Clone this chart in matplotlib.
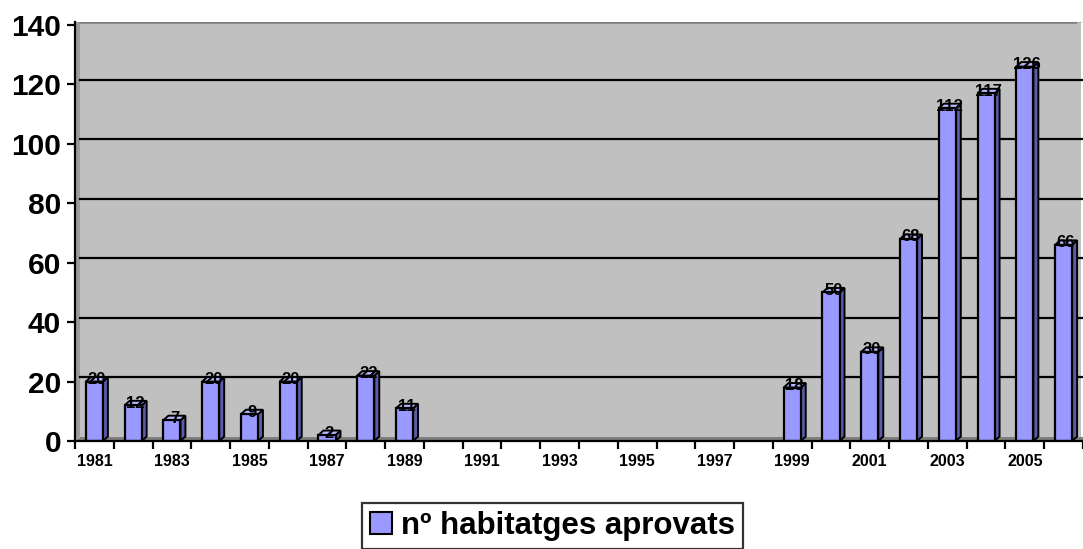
import matplotlib
matplotlib.use("Agg")
import matplotlib.pyplot as plt
from matplotlib.patches import Patch, Polygon, Rectangle
import numpy as np

years = list(range(1981, 2007))
values = [20, 12, 7, 20, 9, 20, 2, 22, 11,
          None, None, None, None, None, None, None, None, None,
          18, 50, 30, 68, 112, 117, 126, 66]
yticks = [0, 20, 40, 60, 80, 100, 120, 140]
series_label = "nº habitatges aprovats"

plt.rcParams['font.family'] = ['Liberation Sans', 'DejaVu Sans']

W, H = 1083, 549
fig = plt.figure(figsize=(W / 100, H / 100), dpi=100)
fig.patch.set_facecolor('white')

ax_left, ax_right = 75, 1083
ax_bot, ax_top = 441, 21.7
tick0, tick140 = 441, 25
ax = fig.add_axes([ax_left / W, (H - ax_bot) / H, (ax_right - ax_left) / W, (ax_bot - ax_top) / H])

cat_px = 39.04
px_per_unit = (tick0 - tick140) / 140.0
xmin = -0.5
xmax = xmin + (ax_right - ax_left) / cat_px
ymax = (ax_bot - ax_top) / px_per_unit
ax.set_xlim(xmin, xmax)
ax.set_ylim(0, ymax)

dx = 5.0 / cat_px
dy = 4.5 / px_per_unit

ax.set_facecolor('white')
# back wall
ax.add_patch(Rectangle((xmin + dx, dy), xmax - xmin, ymax, facecolor='#C0C0C0', edgecolor='none', zorder=0))
# floor
ax.add_patch(Polygon([(xmin, 0), (xmax + 1, 0), (xmax + 1, dy), (xmin + dx, dy)], closed=True,
                     facecolor='#7E7E7E', edgecolor='none', zorder=0.5))
# left wall
ax.add_patch(Polygon([(xmin, 0), (xmin + dx, dy), (xmin + dx, ymax + 1), (xmin, ymax + 1)], closed=True,
                     facecolor='#9A9A9A', edgecolor='none', zorder=0.5))
# top edge of back wall
ax.plot([xmin + dx, xmax], [ymax - 0.4, ymax - 0.4], color='#8C8C8C', lw=1.5, zorder=0.6)

# gridlines on back wall
for t in yticks[1:]:
    ax.plot([xmin + dx, xmax + 1], [t + dy, t + dy], color='black', lw=1.6, zorder=1)

bw = 0.44
front = '#9999FF'
side = '#5C5CA8'
top = '#B8B8FF'
for i, v in enumerate(values):
    if v is None:
        continue
    x0 = i - bw / 2
    x1 = i + bw / 2
    ax.add_patch(Polygon([(x1, 0), (x1 + dx, dy), (x1 + dx, v + dy), (x1, v)], closed=True,
                         facecolor=side, edgecolor='black', lw=1.4, zorder=3, joinstyle='miter'))
    ax.add_patch(Polygon([(x0, v), (x0 + dx, v + dy), (x1 + dx, v + dy), (x1, v)], closed=True,
                         facecolor=top, edgecolor='black', lw=1.4, zorder=3, joinstyle='miter'))
    ax.add_patch(Rectangle((x0, 0), bw, v, facecolor=front, edgecolor='black', lw=1.6, zorder=4,
                           joinstyle='miter'))
    ax.annotate(str(v), (i + dx / 2, v), xytext=(0, -4), textcoords='offset points',
                ha='center', va='bottom', fontsize=12, fontweight='bold', zorder=5)

for s in ['top', 'right']:
    ax.spines[s].set_visible(False)
for s in ['left', 'bottom']:
    ax.spines[s].set_linewidth(1.6)
    ax.spines[s].set_zorder(6)

ax.set_yticks(yticks)
ax.set_yticklabels([str(t) for t in yticks], fontsize=21.5, fontweight='bold')
ax.tick_params(axis='y', direction='out', length=6, width=1.6, pad=4)

xt = [i for i, y in enumerate(years) if y % 2 == 1]
ax.set_xticks(xt)
ax.set_xticklabels([str(years[i]) for i in xt], fontsize=11.5, fontweight='bold')
ax.set_xticks([i - 0.5 for i in range(len(years) + 1)], minor=True)
ax.tick_params(axis='x', which='major', length=0, pad=9)
ax.tick_params(axis='x', which='minor', direction='out', length=6, width=1.6)

handle = Patch(facecolor=front, edgecolor='black', lw=1.5)
leg = fig.legend(handles=[handle], labels=[series_label], loc='upper left',
                 bbox_to_anchor=(362 / W, 1 - 503 / H), frameon=True, fancybox=False,
                 prop={'size': 22.5, 'weight': 'bold'}, handlelength=0.7, handleheight=0.7,
                 handletextpad=0.3, borderpad=0.25, borderaxespad=0)
leg.get_frame().set_edgecolor('black')
leg.get_frame().set_linewidth(1.6)

fig.savefig('out.png', dpi=100)
